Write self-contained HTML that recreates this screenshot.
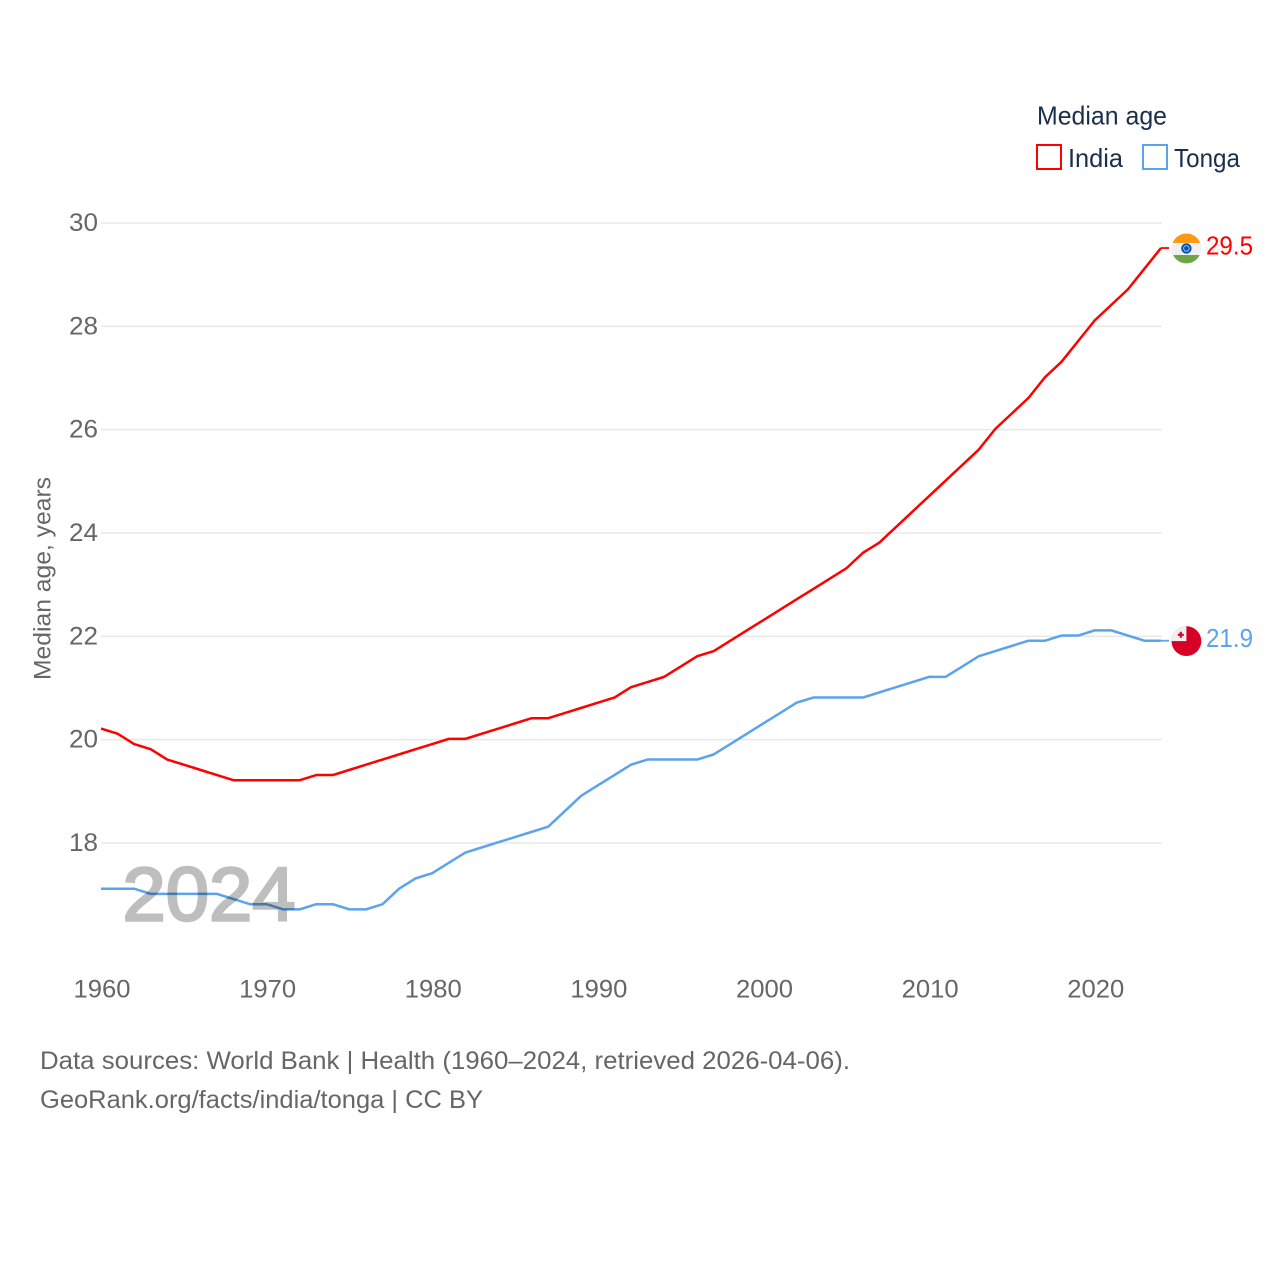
<!DOCTYPE html>
<html lang="en">
<head>
<meta charset="utf-8">
<title>Median age: India and Tonga</title>
<style>
html,body{margin:0;padding:0;background:#fff;width:1280px;height:1280px;overflow:hidden}
svg{display:block}
text{font-family:"Liberation Sans",sans-serif}
.tick{font-size:25px;fill:#666}
.foot{font-size:25px;fill:#666}
.leg{font-size:26px;fill:#1a2f4a}
</style>
</head>
<body>
<svg id="chart" xmlns="http://www.w3.org/2000/svg" width="1280" height="1280" viewBox="0 0 1280 1280">
  <rect width="1280" height="1280" fill="#fff"/>
  <g id="grid"></g>
  <g id="yticks"></g>
  <g id="xticks"></g>
  <text transform="translate(50.5,680) rotate(-90)" font-size="24" fill="#666" textLength="203" lengthAdjust="spacingAndGlyphs">Median age, years</text>
  <g id="series" transform="translate(0,-0.8)"></g>
  <text x="122.5" y="920.5" font-size="76" fill="#000" stroke="#000" stroke-width="2.6" opacity="0.25" textLength="173" lengthAdjust="spacingAndGlyphs">2024</text>
  <g id="ends"></g>
  <g>
    <text class="leg" x="1037" y="124.5" textLength="130" lengthAdjust="spacingAndGlyphs">Median age</text>
    <rect x="1037" y="145" width="24" height="24" fill="none" stroke="#ff0000" stroke-width="2"/>
    <text class="leg" x="1068" y="167" textLength="55" lengthAdjust="spacingAndGlyphs">India</text>
    <rect x="1143" y="145" width="24" height="24" fill="none" stroke="#5ba3ec" stroke-width="2"/>
    <text class="leg" x="1174" y="167" textLength="66" lengthAdjust="spacingAndGlyphs">Tonga</text>
  </g>
  <text class="foot" x="40" y="1069" textLength="810" lengthAdjust="spacingAndGlyphs">Data sources: World Bank | Health (1960–2024, retrieved 2026-04-06).</text>
  <text class="foot" x="40" y="1108" textLength="443" lengthAdjust="spacingAndGlyphs">GeoRank.org/facts/india/tonga | CC BY</text>
</svg>
<script>
var years = [1960,1961,1962,1963,1964,1965,1966,1967,1968,1969,1970,1971,1972,1973,1974,1975,1976,1977,1978,1979,1980,1981,1982,1983,1984,1985,1986,1987,1988,1989,1990,1991,1992,1993,1994,1995,1996,1997,1998,1999,2000,2001,2002,2003,2004,2005,2006,2007,2008,2009,2010,2011,2012,2013,2014,2015,2016,2017,2018,2019,2020,2021,2022,2023,2024];
var indiaValues = [20.2,20.1,19.9,19.8,19.6,19.5,19.4,19.3,19.2,19.2,19.2,19.2,19.2,19.3,19.3,19.4,19.5,19.6,19.7,19.8,19.9,20.0,20.0,20.1,20.2,20.3,20.4,20.4,20.5,20.6,20.7,20.8,21.0,21.1,21.2,21.4,21.6,21.7,21.9,22.1,22.3,22.5,22.7,22.9,23.1,23.3,23.6,23.8,24.1,24.4,24.7,25.0,25.3,25.6,26.0,26.3,26.6,27.0,27.3,27.7,28.1,28.4,28.7,29.1,29.5];
var tongaValues = [17.1,17.1,17.1,17.0,17.0,17.0,17.0,17.0,16.9,16.8,16.8,16.7,16.7,16.8,16.8,16.7,16.7,16.8,17.1,17.3,17.4,17.6,17.8,17.9,18.0,18.1,18.2,18.3,18.6,18.9,19.1,19.3,19.5,19.6,19.6,19.6,19.6,19.7,19.9,20.1,20.3,20.5,20.7,20.8,20.8,20.8,20.8,20.9,21.0,21.1,21.2,21.2,21.4,21.6,21.7,21.8,21.9,21.9,22.0,22.0,22.1,22.1,22.0,21.9,21.9];
var yTickValues = [18,20,22,24,26,28,30];
var xTickValues = [1960,1970,1980,1990,2000,2010,2020];

var NS = 'http://www.w3.org/2000/svg';
function xScale(year){ return 101 + (year - 1960) * (1161 - 101) / 64; }
function yScale(v){ return 843 - (v - 18) * (843 - 223) / 12; }
function make(tag, attrs, parent){
  var el = document.createElementNS(NS, tag);
  for (var k in attrs) el.setAttribute(k, attrs[k]);
  parent.appendChild(el);
  return el;
}
var grid = document.getElementById('grid');
var yticks = document.getElementById('yticks');
var xticks = document.getElementById('xticks');
var series = document.getElementById('series');
var ends = document.getElementById('ends');

yTickValues.forEach(function(v){
  var line = make('line', {x1:101, x2:1162, y1:yScale(v), y2:yScale(v), stroke:'#e8e8e8', 'stroke-width':1.5}, grid);
  
  
  var t = make('text', {x:69, y:yScale(v) + 8, 'class':'tick', textLength:29, lengthAdjust:'spacingAndGlyphs'}, yticks);
  t.textContent = String(v);
  
  
});
xTickValues.forEach(function(y){
  var t = make('text', {x:xScale(y) + 1, y:997.6, 'text-anchor':'middle', 'class':'tick', textLength:57, lengthAdjust:'spacingAndGlyphs'}, xticks);
  t.textContent = String(y);
  
  
});

function drawSeries(values, color, name){
  var pts = values.map(function(v, i){ return xScale(years[i]).toFixed(2) + ',' + yScale(v).toFixed(2); });
  var p = make('polyline', {points:pts.join(' '), fill:'none', stroke:color, 'stroke-width':2.5, 'stroke-linejoin':'round'}, series);
  
  
  var last = values[values.length - 1];
  var c = make('line', {x1:xScale(years[years.length - 1]), x2:1169, y1:yScale(last), y2:yScale(last), stroke:color, 'stroke-width':1.8}, series);
  
  
}
drawSeries(tongaValues, '#5ba3ec', 'tonga');
drawSeries(indiaValues, '#ff0000', 'india');

function clipFor(id, cx, cy){
  var defs = make('defs', {}, ends);
  var cp = make('clipPath', {id:id}, defs);
  make('circle', {cx:cx, cy:cy, r:14.9}, cp);
}
function endLabel(value, color, name){
  var t = make('text', {x:1206, y:yScale(value) + 5.5, fill:color, 'font-size':25.5, textLength:47, lengthAdjust:'spacingAndGlyphs'}, ends);
  t.textContent = value.toFixed(1);
  
  
}

var indiaLast = indiaValues[indiaValues.length - 1];
var tongaLast = tongaValues[tongaValues.length - 1];
var fx = 1186.4;

var iy = yScale(indiaLast) - 0.4;
clipFor('clip-india', fx, iy);
var gi = make('g', {'clip-path':'url(#clip-india)'}, ends);


make('rect', {x:fx - 16, y:iy - 16, width:32, height:32, fill:'#f0f0f0'}, gi);
make('rect', {x:fx - 16, y:iy - 16, width:32, height:10.5, fill:'#ff9811'}, gi);
make('rect', {x:fx - 16, y:iy + 6.6, width:32, height:10, fill:'#6da544'}, gi);
make('circle', {cx:fx, cy:iy, r:5.2, fill:'#0052b4'}, gi);
make('circle', {cx:fx, cy:iy, r:2.8, fill:'none', stroke:'#9fbfe6', 'stroke-width':1}, gi);
make('circle', {cx:fx, cy:iy, r:1.2, fill:'#0052b4'}, gi);
endLabel(indiaLast, '#ff0000', 'india');

var ty = yScale(tongaLast) - 0.4;
clipFor('clip-tonga', fx, ty);
var gt = make('g', {'clip-path':'url(#clip-tonga)'}, ends);


make('rect', {x:fx - 16, y:ty - 16, width:32, height:32, fill:'#d80027'}, gt);
make('rect', {x:fx - 16, y:ty - 16, width:16, height:16, fill:'#f0f0f0'}, gt);
make('rect', {x:fx - 8.6, y:ty - 7.4, width:6, height:2.2, fill:'#d80027'}, gt);
make('rect', {x:fx - 6.7, y:ty - 9.3, width:2.2, height:6, fill:'#d80027'}, gt);
endLabel(tongaLast, '#5ba3ec', 'tonga');
</script>
</body>
</html>
